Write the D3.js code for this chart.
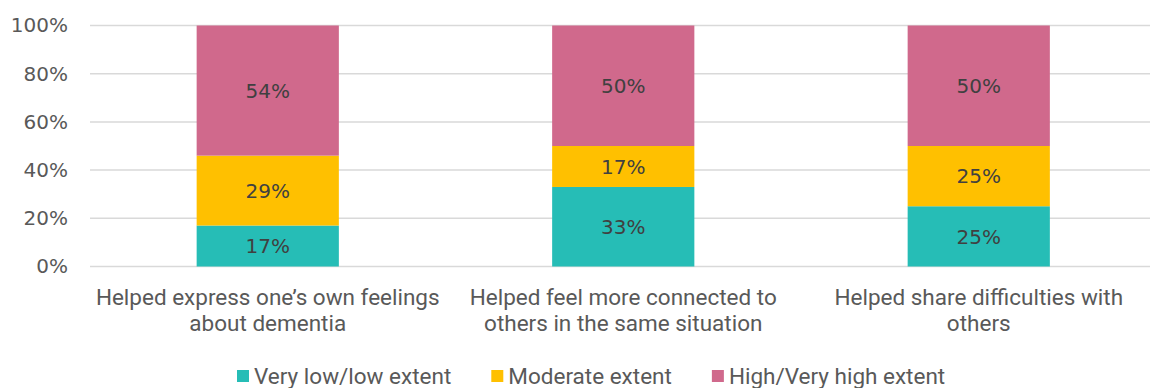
<!DOCTYPE html>
<html>
<head>
<meta charset="utf-8">
<script src="https://cdn.jsdelivr.net/npm/d3@7"></script>
<style>
  body { margin: 0; background: #fff; }
  text { font-family: Roboto, "Liberation Sans", sans-serif; }
</style>
</head>
<body>
<script>
const w = 1150;
const h = 388;

// data
const categories = [
  ["Helped express one\u2019s own feelings", "about dementia"],
  ["Helped feel more connected to", "others in the same situation"],
  ["Helped share difficulties with", "others"]
];
const seriesNames = ["Very low/low extent", "Moderate extent", "High/Very high extent"];
const lowValues = [17, 33, 25];
const moderateValues = [29, 17, 25];
const highValues = [54, 50, 50];
const yTicks = [0, 20, 40, 60, 80, 100];

const colors = ["#26BDB6", "#FFC000", "#D0698C"];

const margin = { left: 90, right: 0, top: 25.5, bottom: 121.5 };
const numberFont = "'DejaVu Sans', Roboto, sans-serif";

const svg = d3.select("body").append("svg").attr("width", w).attr("height", h);

const xScale = d3.scaleBand()
  .domain(d3.range(categories.length))
  .range([margin.left, margin.left + 3 * 355.5])
  .paddingInner(0.6)
  .paddingOuter(0.3);

const yScale = d3.scaleLinear()
  .domain([0, 100])
  .range([h - margin.bottom, margin.top]);

// gridlines
svg.append("g")
  .selectAll("line")
  .data(yTicks)
  .enter()
  .append("line")
  .attr("x1", margin.left)
  .attr("x2", w)
  .attr("y1", d => yScale(d))
  .attr("y2", d => yScale(d))
  .attr("stroke", "#d9d9d9")
  .attr("stroke-width", 1.5);

// y axis
const yAxis = d3.axisLeft(yScale).tickValues(yTicks).tickFormat(d => d + "%").tickSize(0).tickPadding(0);
const yg = svg.append("g")
  .attr("transform", "translate(" + 68 + ",0)")
  .call(yAxis);
yg.select(".domain").remove();
yg.selectAll("text")
  .attr("fill", "#595959")
  .style("font-family", numberFont)
  .style("font-size", "20px");

// stack
const rows = categories.map((c, i) => ({ i: i, low: lowValues[i], moderate: moderateValues[i], high: highValues[i] }));
const keys = ["low", "moderate", "high"];
const stacked = d3.stack().keys(keys)(rows);

const layers = svg.selectAll(".layer")
  .data(stacked)
  .enter()
  .append("g")
  .attr("class", "layer")
  .attr("fill", (d, i) => colors[i]);

layers.selectAll("rect")
  .data(d => d)
  .enter()
  .append("rect")
  .attr("x", d => xScale(d.data.i))
  .attr("y", d => yScale(d[1]))
  .attr("width", xScale.bandwidth())
  .attr("height", d => yScale(d[0]) - yScale(d[1]));

layers.selectAll(".bar-label")
  .data(d => d)
  .enter()
  .append("text")
  .attr("class", "bar-label")
  .attr("x", d => xScale(d.data.i) + xScale.bandwidth() / 2)
  .attr("y", d => (yScale(d[0]) + yScale(d[1])) / 2)
  .attr("dy", "0.36em")
  .attr("text-anchor", "middle")
  .attr("fill", "#404040")
  .style("font-family", numberFont)
  .style("font-size", "20px")
  .text(d => (d[1] - d[0]) + "%");

// category labels
const catG = svg.append("g")
  .selectAll("text")
  .data(categories)
  .enter()
  .append("text")
  .attr("x", (d, i) => xScale(i) + xScale.bandwidth() / 2)
  .attr("y", 305)
  .attr("text-anchor", "middle")
  .attr("fill", "#595959")
  .style("font-size", "22.5px");

catG.selectAll("tspan")
  .data(d => d)
  .enter()
  .append("tspan")
  .attr("x", function () { return d3.select(this.parentNode).attr("x"); })
  .attr("dy", (d, i) => i === 0 ? 0 : 26)
  .text(d => d);

// legend
const legend = svg.append("g").attr("class", "legend");
const items = legend.selectAll("g")
  .data(seriesNames)
  .enter()
  .append("g");

items.append("rect")
  .attr("width", 12)
  .attr("height", 12)
  .attr("y", -6)
  .attr("fill", (d, i) => colors[i]);

items.append("text")
  .attr("x", 17)
  .attr("dy", "0.36em")
  .attr("fill", "#595959")
  .style("font-size", "22.5px")
  .text(d => d);

let cursor = 237;
items.each(function () {
  const width = this.getBBox().width;
  d3.select(this).attr("transform", "translate(" + cursor + ",376)");
  cursor += width + 40;
});
</script>
</body>
</html>
